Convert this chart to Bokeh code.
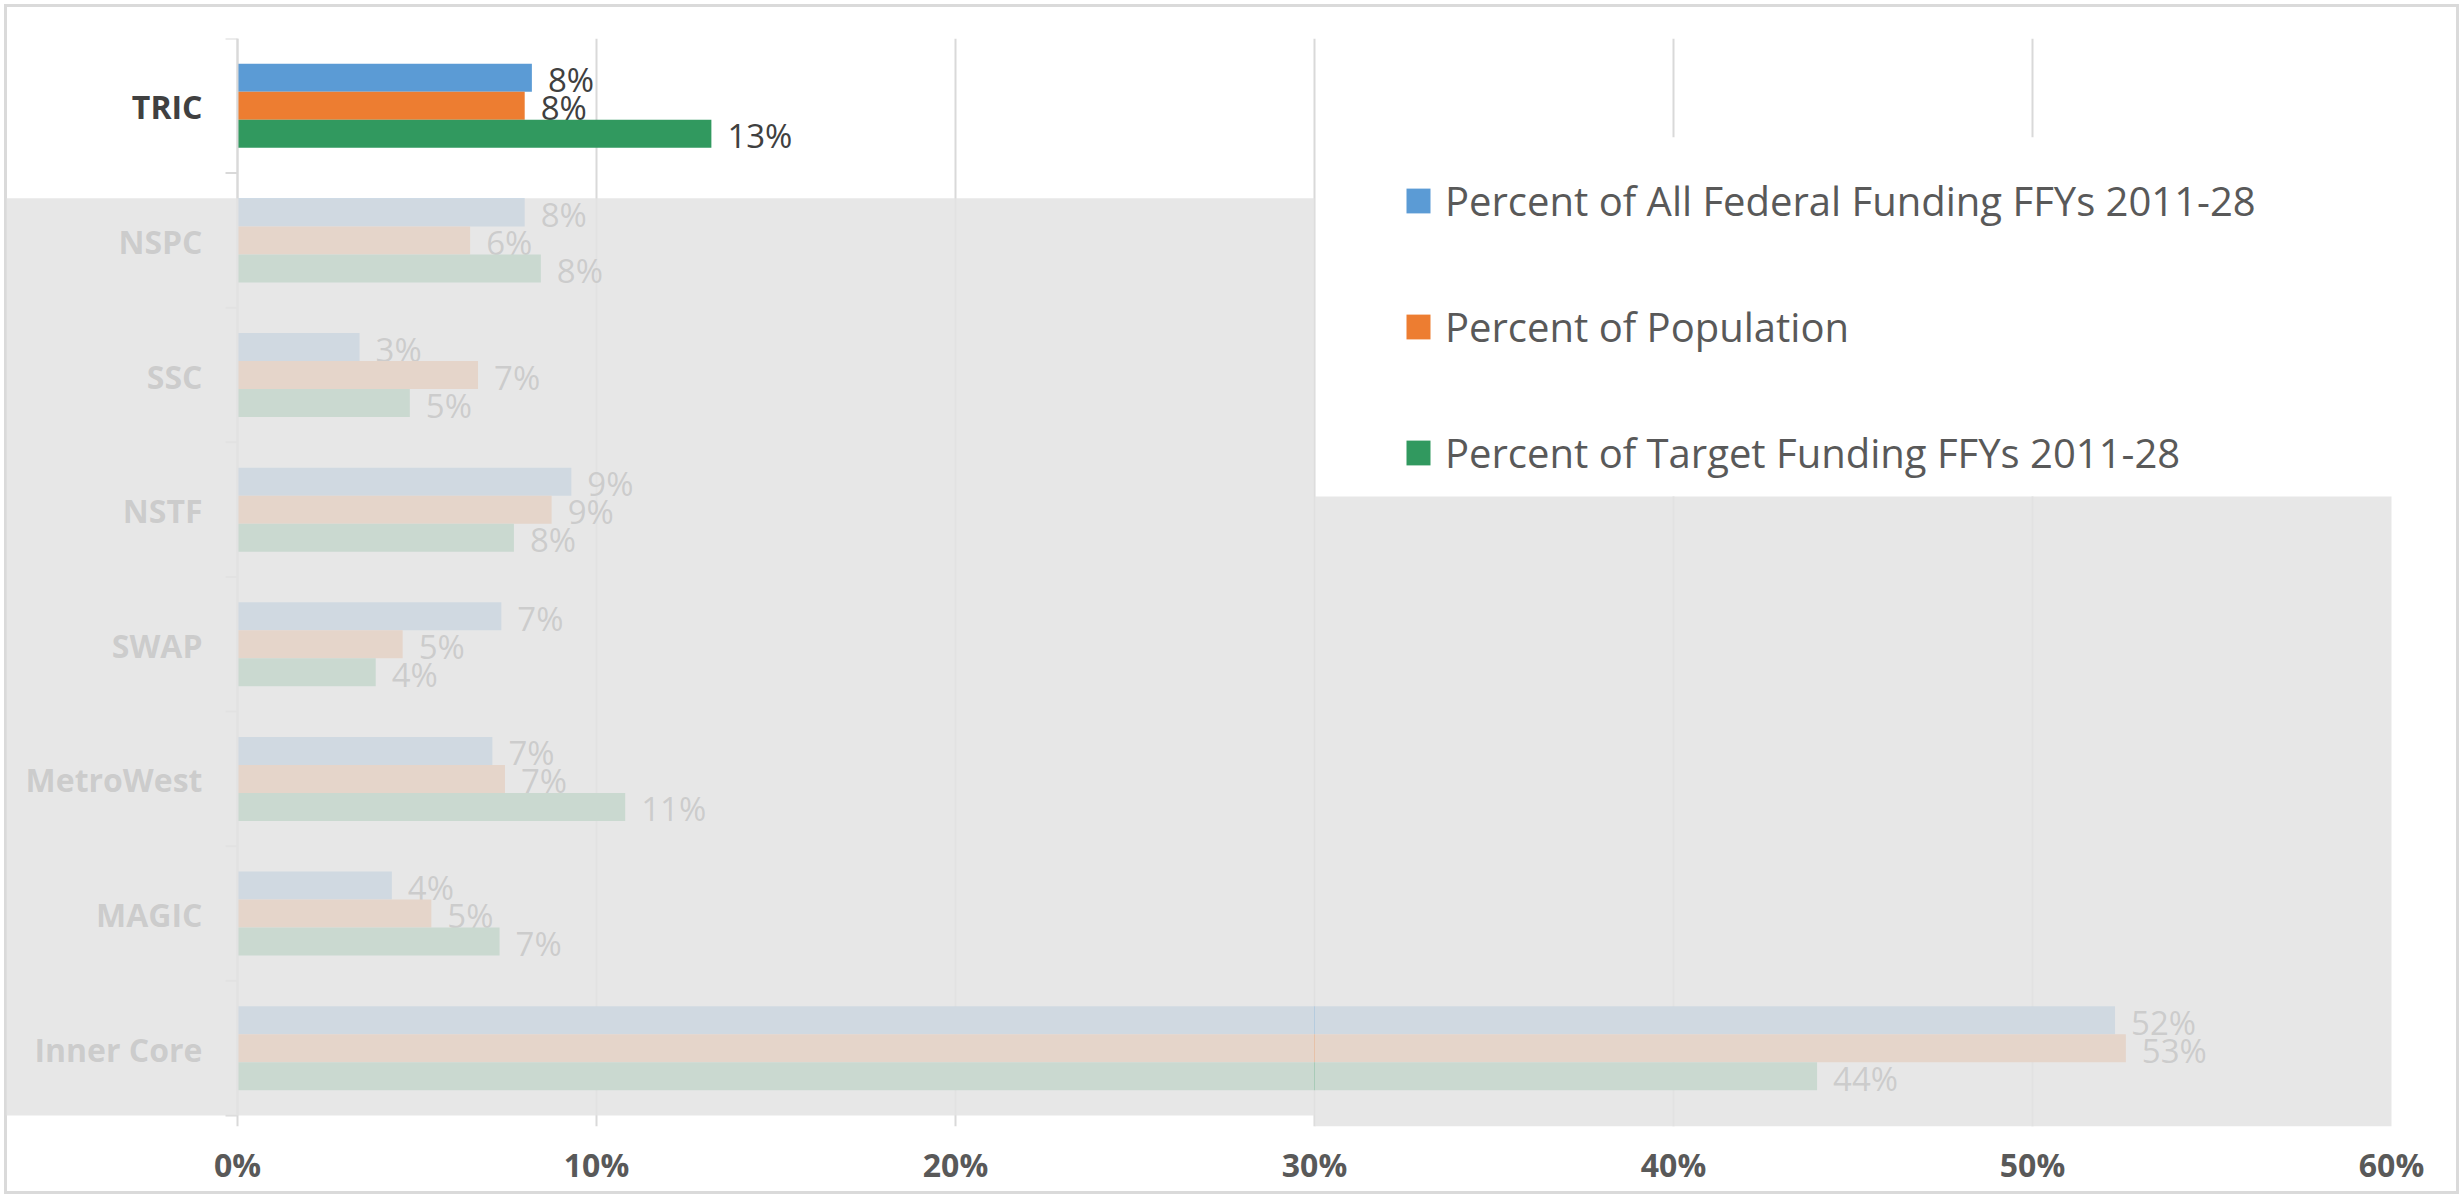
from bokeh.plotting import figure
from bokeh.models import (Range1d, FixedTicker, PrintfTickFormatter,
                          BoxAnnotation, Legend, LegendItem, ColumnDataSource)
from bokeh.transform import dodge
from bokeh.core.properties import value
from bokeh.embed import file_html
from bokeh.resources import INLINE

# ---------------- data ----------------
regions = ["TRIC", "NSPC", "SSC", "NSTF", "SWAP", "MetroWest", "MAGIC", "Inner Core"]
federal_funding = [8.2, 8.0, 3.4, 9.3, 7.35, 7.1, 4.3, 52.3]
population = [8.0, 6.48, 6.7, 8.75, 4.6, 7.45, 5.4, 52.6]
target_funding = [13.2, 8.45, 4.8, 7.7, 3.85, 10.8, 7.3, 44.0]
series_names = ["Percent of All Federal Funding FFYs 2011-28",
                "Percent of Population",
                "Percent of Target Funding FFYs 2011-28"]
series_colors = ["#5B9BD5", "#ED7D31", "#31995F"]
x_ticks = [0, 10, 20, 30, 40, 50, 60]

# ---------------- layout constants ----------------
FONT = "Open Sans"
W, H = 2463, 1198
PX = 35.9            # pixels per percentage point
BAND = 134.6         # pixels per category band
N = len(regions)
frame_right = 2391   # canvas x of the 60% line
frame_bottom = 1126  # canvas y of the frame bottom
axis_bottom = 1115   # canvas y where the category bands end


def pct(vals):
    return ["%d%%" % int(v + 0.5) for v in vals]


def ydata(canvas_y):
    return (axis_bottom - canvas_y) / BAND


def xdata(canvas_x):
    return (canvas_x - (frame_right - 60 * PX)) / PX


# category centres: first region at the top
ypos = [N - 0.5 - i for i in range(N)]

src = ColumnDataSource(dict(
    region=regions, y=ypos,
    fed=federal_funding, pop=population, tgt=target_funding,
    fed_lbl=pct(federal_funding), pop_lbl=pct(population), tgt_lbl=pct(target_funding),
))

p = figure(width=W, height=H, output_backend="svg", toolbar_location=None,
           x_range=Range1d(60 - frame_right / PX, 60),
           y_range=Range1d(ydata(frame_bottom), N),
           y_axis_location=None,
           min_border_left=0, min_border_right=W - frame_right,
           min_border_top=38, min_border_bottom=H - frame_bottom)
p.outline_line_color = None
p.background_fill_color = None
p.border_fill_color = None
p.styles = {"box-shadow": "inset 0 0 0 4px #ffffff, inset 0 0 0 7px #dadada"}

# white panel behind the legend (hides the 40% / 50% grid lines)
p.add_layout(BoxAnnotation(left=30.06, right=59.94, top=ydata(137), bottom=ydata(496),
                           fill_color="white", fill_alpha=1.0, line_color=None,
                           level="underlay"))

bar_h = 0.208
offsets = [bar_h, 0.0, -bar_h]
cols = ["fed", "pop", "tgt"]
bars = []
for col, off, color in zip(cols, offsets, series_colors):
    b = p.hbar(y=dodge("y", off), left=0, right=col,
               height=bar_h, fill_color=color, line_color=None, source=src)
    bars.append(b)
    p.text(x=col, y=dodge("y", off), text=col + "_lbl",
           x_offset=16, y_offset=2, text_baseline="middle", text_align="left",
           text_font=value(FONT), text_font_size="33px", text_color="#404040",
           source=src)

# category axis: line, boundary ticks and labels
p.segment(x0=0, y0=0, x1=0, y1=N, line_color="#d9d9d9", line_width=2)
p.segment(x0=-12 / PX, y0=list(range(N + 1)), x1=0, y1=list(range(N + 1)),
          line_color="#d9d9d9", line_width=2)
p.text(x=0, y="y", text="region", source=src, x_offset=-35, y_offset=1,
       text_align="right", text_baseline="middle",
       text_font=value(FONT), text_font_style="bold", text_font_size="32px",
       text_color="#404040")

# x axis
p.xaxis.ticker = FixedTicker(ticks=x_ticks)
p.xaxis.formatter = PrintfTickFormatter(format="%d%%")
p.xaxis.axis_line_color = None
p.xaxis.major_tick_line_color = None
p.xaxis.minor_tick_line_color = None
p.xaxis.major_label_text_font = FONT
p.xaxis.major_label_text_font_style = "bold"
p.xaxis.major_label_text_font_size = "32px"
p.xaxis.major_label_text_color = "#595959"
p.xaxis.major_label_standoff = 10

p.xgrid.ticker = FixedTicker(ticks=x_ticks)
p.xgrid.grid_line_color = "#d9d9d9"
p.xgrid.grid_line_width = 2
p.ygrid.grid_line_color = None

legend = Legend(items=[LegendItem(label=n, renderers=[r]) for n, r in zip(series_names, bars)],
                location=(1403, frame_bottom - 480), padding=0, margin=0, spacing=71,
                label_height=50, glyph_height=31, glyph_width=30, label_standoff=12,
                background_fill_alpha=0.0, border_line_color=None,
                label_text_font=FONT, label_text_font_size="40px",
                label_text_color="#595959")
p.add_layout(legend)

# grey highlight overlays (everything except TRIC faded)
fade = dict(fill_color="#e3e3e3", fill_alpha=0.86, line_color=None, level="overlay")
p.add_layout(BoxAnnotation(left=xdata(6), right=30, top=ydata(198), bottom=0, **fade))
p.add_layout(BoxAnnotation(left=30, right=xdata(2395), top=ydata(496),
                           bottom=ydata(frame_bottom), **fade))

open("out.html", "w").write(file_html(p, INLINE))
